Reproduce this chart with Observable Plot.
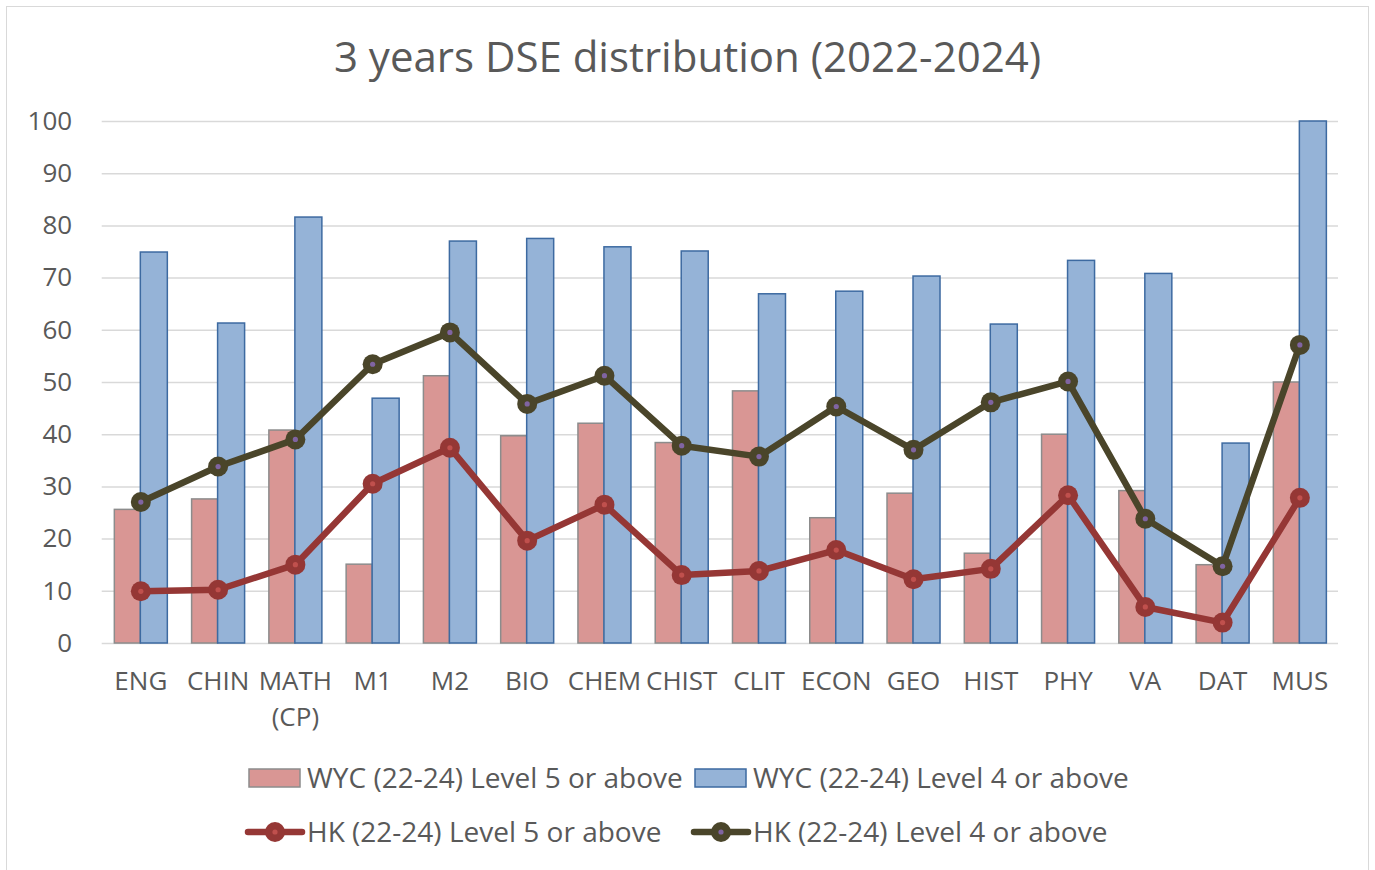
<!DOCTYPE html>
<html>
<head>
<meta charset="utf-8">
<script src="https://cdn.jsdelivr.net/npm/d3@7"></script>
<script src="https://cdn.jsdelivr.net/npm/@observablehq/plot@0.6"></script>
<style>
  html, body { margin: 0; padding: 0; background: #fff; }
  #wrap { position: relative; width: 1375px; height: 870px; overflow: hidden; font-family: "Open Sans", sans-serif; color: #595959; }
  #border { position: absolute; left: 6px; top: 6px; width: 1363px; height: 900px; border: 1.5px solid #d9d9d9; box-sizing: border-box; }
  #title { position: absolute; left: 0; top: 35px; width: 1375px; text-align: center; font-size: 42px; line-height: 42px; white-space: nowrap; }
  #chart { position: absolute; left: 0; top: 100px; }
  .leg { position: absolute; font-size: 28px; line-height: 28px; white-space: nowrap; }
  .sw { position: absolute; }
</style>
</head>
<body>
<div id="wrap">
  <div id="border"></div>
  <div id="title">3 years DSE distribution (2022-2024)</div>
  <div id="chart"></div>
  <div id="legend"></div>
</div>
<script>
// ---- data ----
const categories = ["ENG","CHIN","MATH (CP)","M1","M2","BIO","CHEM","CHIST","CLIT","ECON","GEO","HIST","PHY","VA","DAT","MUS"];
const wycL5 = [25.6, 27.6, 40.8, 15.1, 51.2, 39.7, 42.1, 38.4, 48.3, 24.0, 28.7, 17.2, 40.0, 29.2, 15.0, 50.0];
const wycL4 = [74.9, 61.3, 81.6, 46.9, 77.0, 77.5, 75.9, 75.1, 66.9, 67.4, 70.3, 61.1, 73.3, 70.8, 38.3, 100];
const hkL5  = [10.0, 10.3, 15.1, 30.6, 37.5, 19.7, 26.6, 13.1, 13.9, 17.9, 12.3, 14.3, 28.4, 7.0, 4.0, 27.9];
const hkL4  = [27.1, 33.9, 39.1, 53.5, 59.6, 45.9, 51.3, 37.9, 35.8, 45.4, 37.1, 46.2, 50.2, 23.9, 14.8, 57.2];
const yTicks = [0, 10, 20, 30, 40, 50, 60, 70, 80, 90, 100];
const seriesNames = ["WYC (22-24) Level 5 or above", "WYC (22-24) Level 4 or above", "HK (22-24) Level 5 or above", "HK (22-24) Level 4 or above"];

const colors = {
  wyc5Fill: "#D99694", wyc5Stroke: "#8C8C8C",
  wyc4Fill: "#95B3D7", wyc4Stroke: "#3D6AA1",
  hk5: "#953735", hk5Inner: "#C0504D",
  hk4: "#4A452A", hk4Inner: "#8064A2"
};

const data = categories.map((c, i) => ({cat: c, wyc5: wycL5[i], wyc4: wycL4[i], hk5: hkL5[i], hk4: hkL4[i]}));

const W = 1375, H = 640, mL = 101.7, mR = 37, mT = 21, mB = 97;
const band = (W - mL - mR) / categories.length;
const barW = 26;

const chart = Plot.plot({
  width: W, height: H,
  marginLeft: mL, marginRight: mR, marginTop: mT, marginBottom: mB,
  style: {fontFamily: "Open Sans, sans-serif", fontSize: "26px", color: "#595959", background: "transparent", overflow: "visible"},
  x: {type: "band", domain: categories, padding: 0, round: false},
  y: {domain: [0, 100]},
  marks: [
    Plot.ruleY(yTicks, {stroke: "#d9d9d9", strokeWidth: 1.5}),
    Plot.barY(data, {x: "cat", y: "wyc5", fill: colors.wyc5Fill, stroke: colors.wyc5Stroke, strokeWidth: 1.5,
      insetLeft: band / 2 - barW, insetRight: band / 2}),
    Plot.barY(data, {x: "cat", y: "wyc4", fill: colors.wyc4Fill, stroke: colors.wyc4Stroke, strokeWidth: 1.5,
      insetLeft: band / 2, insetRight: band / 2 - barW - 1}),
    Plot.line(data, {x: "cat", y: "hk5", stroke: colors.hk5, strokeWidth: 6.5, strokeLinejoin: "round"}),
    Plot.dot(data, {x: "cat", y: "hk5", r: 10, fill: colors.hk5, stroke: "none"}),
    Plot.dot(data, {x: "cat", y: "hk5", r: 2.6, fill: colors.hk5Inner, stroke: "none"}),
    Plot.line(data, {x: "cat", y: "hk4", stroke: colors.hk4, strokeWidth: 6.5, strokeLinejoin: "round"}),
    Plot.dot(data, {x: "cat", y: "hk4", r: 10, fill: colors.hk4, stroke: "none"}),
    Plot.dot(data, {x: "cat", y: "hk4", r: 2.6, fill: colors.hk4Inner, stroke: "none"}),
    Plot.axisY({ticks: yTicks, tickSize: 0, tickPadding: 30, fontSize: 26, fill: "#595959", label: null}),
    Plot.axisX({tickSize: 0, tickPadding: 21, fontSize: 26, lineHeight: 1.38, fill: "#595959", label: null,
      tickFormat: d => d.replace(" ", "\n")})
  ]
});
document.getElementById("chart").appendChild(chart);

// ---- legend ----
const legend = document.getElementById("legend");
function addText(txt, x, top) {
  const d = document.createElement("div");
  d.className = "leg"; d.style.left = x + "px"; d.style.top = top + "px"; d.textContent = txt;
  legend.appendChild(d);
}
function addSvg(x, y, w, h, inner) {
  const s = document.createElementNS("http://www.w3.org/2000/svg", "svg");
  s.setAttribute("width", w); s.setAttribute("height", h);
  s.setAttribute("class", "sw"); s.style.left = x + "px"; s.style.top = y + "px";
  s.innerHTML = inner;
  legend.appendChild(s);
}
// row 1: bars
addSvg(248, 768, 54, 21, `<rect x="1" y="1" width="51" height="18" fill="${colors.wyc5Fill}" stroke="${colors.wyc5Stroke}" stroke-width="1.5"/>`);
addText(seriesNames[0], 307, 763);
addSvg(694, 768, 54, 21, `<rect x="1" y="1" width="51" height="18" fill="${colors.wyc4Fill}" stroke="${colors.wyc4Stroke}" stroke-width="1.5"/>`);
addText(seriesNames[1], 753, 763);
// row 2: lines
addSvg(244, 820, 62, 24, `<line x1="4" y1="12" x2="58" y2="12" stroke="${colors.hk5}" stroke-width="6.5" stroke-linecap="round"/><circle cx="31" cy="12" r="10" fill="${colors.hk5}"/><circle cx="31" cy="12" r="2.6" fill="${colors.hk5Inner}"/>`);
addText(seriesNames[2], 307, 817);
addSvg(690, 820, 62, 24, `<line x1="4" y1="12" x2="58" y2="12" stroke="${colors.hk4}" stroke-width="6.5" stroke-linecap="round"/><circle cx="31" cy="12" r="10" fill="${colors.hk4}"/><circle cx="31" cy="12" r="2.6" fill="${colors.hk4Inner}"/>`);
addText(seriesNames[3], 753, 817);
</script>
</body>
</html>
